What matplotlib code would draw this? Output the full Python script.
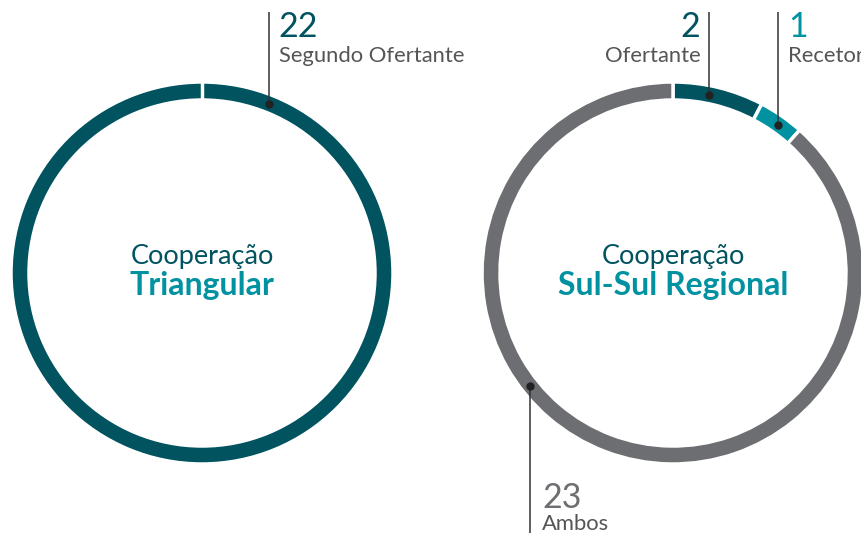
import numpy as np
import matplotlib
matplotlib.use("Agg")
import matplotlib.pyplot as plt

plt.rcParams["font.family"] = ["Lato", "DejaVu Sans"]

# data
tri_labels = ["Segundo Ofertante"]
tri_values = [22]
ssr_labels = ["Ofertante", "Recetor", "Ambos"]
ssr_values = [2, 1, 23]

DARK = "#00535F"
LIGHT = "#0092A1"
GRAY = "#6D6E71"
TXT = "#555555"
LINE = "#333333"

W, H = 861, 533
fig = plt.figure(figsize=(W / 100, H / 100), dpi=100)
ax = fig.add_axes([0, 0, 1, 1])
ax.set_xlim(0, W)
ax.set_ylim(0, H)
ax.set_aspect("equal")
ax.axis("off")

R, RING = 191, 18
mid = R - RING / 2


def py(y):
    # pixel row -> data y
    return H - y


def donut(cx, cy, values, colors):
    ax.pie(values, colors=colors, radius=R, center=(cx, py(cy)),
           startangle=90, counterclock=False, frame=True,
           wedgeprops=dict(width=RING, edgecolor="white", linewidth=2.5))
    ax.set_xlim(0, W)
    ax.set_ylim(0, H)
    ax.axis("off")


def pointer(cx, cy, ang, y_end):
    a = np.deg2rad(ang)
    x = cx + mid * np.sin(a)
    y = py(cy) + mid * np.cos(a)
    ax.plot([x, x], [y, py(y_end)], color=LINE, lw=1.1, solid_capstyle="butt")
    ax.plot(x, y, "o", color="#222222", ms=5)
    return x


# left: Cooperação Triangular
c1 = (202, 273)
donut(*c1, tri_values, [DARK])
ax.plot([c1[0], c1[0]], [py(c1[1]) + R - RING - 1, py(c1[1]) + R + 1],
        color="white", lw=2.5)
x = pointer(*c1, 21.5, 12)
ax.text(x + 10, py(37), str(tri_values[0]), color=DARK, fontsize=24.5, va="baseline")
ax.text(x + 10, py(62), tri_labels[0], color=TXT, fontsize=15.8, va="baseline")
ax.text(c1[0], py(264), "Cooperação", color=DARK, fontsize=19.5, ha="center", va="baseline")
ax.text(c1[0], py(295), "Triangular", color=LIGHT, fontsize=23, fontweight="bold",
        ha="center", va="baseline")

# right: Cooperação Sul-Sul Regional
c2 = (673, 273)
donut(*c2, ssr_values, [DARK, LIGHT, GRAY])
x = pointer(*c2, 11.4, 12)
ax.text(x - 9, py(37), str(ssr_values[0]), color=DARK, fontsize=24.5, ha="right", va="baseline")
ax.text(x - 8, py(62), ssr_labels[0], color=TXT, fontsize=15.8, ha="right", va="baseline")
x = pointer(*c2, 35.4, 12)
ax.text(x + 10, py(37), str(ssr_values[1]), color=LIGHT, fontsize=24.5, va="baseline")
ax.text(x + 10, py(62), ssr_labels[1], color=TXT, fontsize=15.8, va="baseline")
x = pointer(*c2, 231.6, 540)
ax.text(x + 12, py(508), str(ssr_values[2]), color=GRAY, fontsize=24.5, va="baseline")
ax.text(x + 12, py(530), ssr_labels[2], color=TXT, fontsize=15.8, va="baseline")
ax.text(c2[0], py(264), "Cooperação", color=DARK, fontsize=19.5, ha="center", va="baseline")
ax.text(c2[0], py(295), "Sul-Sul Regional", color=LIGHT, fontsize=23, fontweight="bold",
        ha="center", va="baseline")

fig.savefig("out.png", dpi=100)
